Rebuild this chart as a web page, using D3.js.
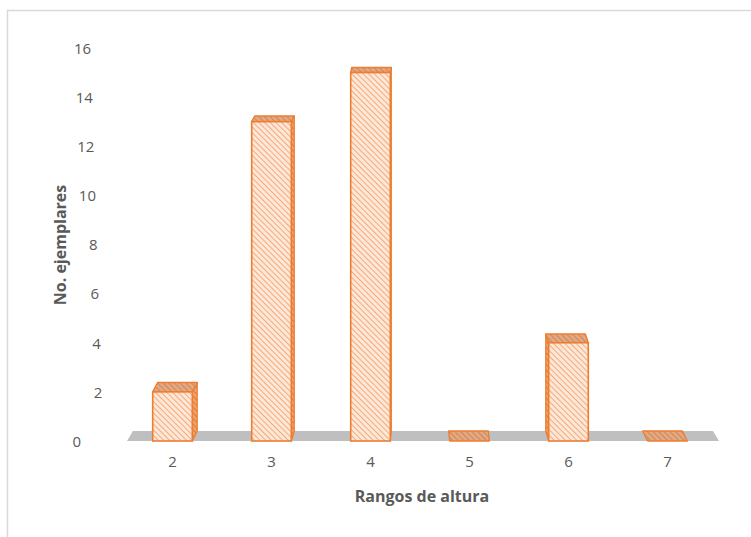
<!DOCTYPE html>
<html>
<head>
<meta charset="utf-8">
<script src="https://cdn.jsdelivr.net/npm/d3@7"></script>
<style>
  html, body { margin: 0; padding: 0; background: #fff; }
  svg { display: block; }
  text { font-family: "Open Sans", "Liberation Sans", sans-serif; }
</style>
</head>
<body>
<svg id="chart" width="751" height="537"></svg>
<script>
const categories = ["2", "3", "4", "5", "6", "7"];
const values = [2, 13, 15, 0, 4, 0];
const yTicks = [0, 2, 4, 6, 8, 10, 12, 14, 16];
const xTitle = "Rangos de altura";
const yTitle = "No. ejemplares";

const svg = d3.select("#chart");

// chart border
svg.append("rect").attr("x", 7.5).attr("y", 10.5).attr("width", 800).attr("height", 600)
  .attr("fill", "#fff").attr("stroke", "#d9d9d9").attr("stroke-width", 1.5);

const defs = svg.append("defs");
function hatch(id, bg, fg, sw, angle) {
  const p = defs.append("pattern").attr("id", id).attr("patternUnits", "userSpaceOnUse")
    .attr("width", 4).attr("height", 4).attr("patternTransform", `rotate(${angle})`);
  p.append("rect").attr("width", 4).attr("height", 4).attr("fill", bg);
  p.append("line").attr("x1", 0).attr("y1", 0).attr("x2", 0).attr("y2", 4)
    .attr("stroke", fg).attr("stroke-width", sw);
}
hatch("hFront", "#fde7d8", "#f3a36e", 1.8, -45);
hatch("hTop", "#f0a472", "#8f8c8a", 1.5, -45);
hatch("hSide", "#f0a06a", "#dd7433", 1.8, -45);

const x = d3.scaleBand().domain(categories).range([123, 717]).paddingInner(0.6).paddingOuter(0.3);
const y = d3.scaleLinear().domain([0, 16]).range([441, 48]);

const vx = 420;            // perspective centre
const dxOf = cx => (vx - cx) * 0.02;
const dyOf = v => 10 - v * 0.33;
const floorDy = dyOf(0);
const base = y(0);

// floor
const fx0 = 127, fx1 = 719;
svg.append("polygon")
  .attr("points", [[fx0, base], [fx0 + dxOf(fx0), base - floorDy], [fx1 + dxOf(fx1), base - floorDy], [fx1, base]].map(p => p.join(",")).join(" "))
  .attr("fill", "#bfbfbf");

const stroke = "#ed7d31";
const data = categories.map((c, i) => ({ c, v: values[i] }));
const g = svg.append("g");
data.forEach(d => {
  const x0 = x(d.c), x1 = x0 + x.bandwidth();
  const cx = (x0 + x1) / 2;
  const dx = dxOf(cx), dy = dyOf(d.v);
  const yv = y(d.v);
  const pts = a => a.map(p => p.join(",")).join(" ");
  if (d.v > 0) {
    const sx = dx > 0 ? x1 : x0;
    g.append("polygon")
      .attr("points", pts([[sx, yv], [sx + dx, yv - dy], [sx + dx, base - floorDy], [sx, base]]))
      .attr("fill", "url(#hSide)").attr("stroke", stroke).attr("stroke-width", 1.2).attr("stroke-linejoin", "round");
  }
  g.append("polygon")
    .attr("points", pts([[x0, yv], [x0 + dx, yv - dy], [x1 + dx, yv - dy], [x1, yv]]))
    .attr("fill", "url(#hTop)").attr("stroke", stroke).attr("stroke-width", 1.4).attr("stroke-linejoin", "round");
  if (d.v > 0) {
    g.append("rect").attr("x", x0).attr("y", yv).attr("width", x1 - x0).attr("height", base - yv)
      .attr("fill", "url(#hFront)").attr("stroke", stroke).attr("stroke-width", 1.6);
  }
});

// y axis
const yAxis = svg.append("g").call(d3.axisLeft(y).tickValues(yTicks).tickSize(0).tickFormat(d3.format("d")));
yAxis.select(".domain").remove();
yAxis.selectAll("text")
  .attr("x", d => d === 0 ? 81 : 104 - d * 0.8)
  .attr("dy", "0.35em")
  .attr("fill", "#595959").attr("font-size", 15)
  .style("font-family", "'Open Sans', sans-serif");

// x axis
const xAxis = svg.append("g").attr("transform", `translate(0,${base})`)
  .call(d3.axisBottom(x).tickSize(0).tickPadding(15));
xAxis.select(".domain").remove();
xAxis.selectAll("text").attr("fill", "#595959").attr("font-size", 15)
  .style("font-family", "'Open Sans', sans-serif");

// titles
svg.append("text").attr("x", 422).attr("y", 502).attr("text-anchor", "middle")
  .attr("font-size", 16).attr("font-weight", "bold").attr("fill", "#595959").text(xTitle);
svg.append("text").attr("transform", "translate(66,245) rotate(-90)").attr("text-anchor", "middle")
  .attr("font-size", 16).attr("font-weight", "bold").attr("fill", "#595959").text(yTitle);
</script>
</body>
</html>
